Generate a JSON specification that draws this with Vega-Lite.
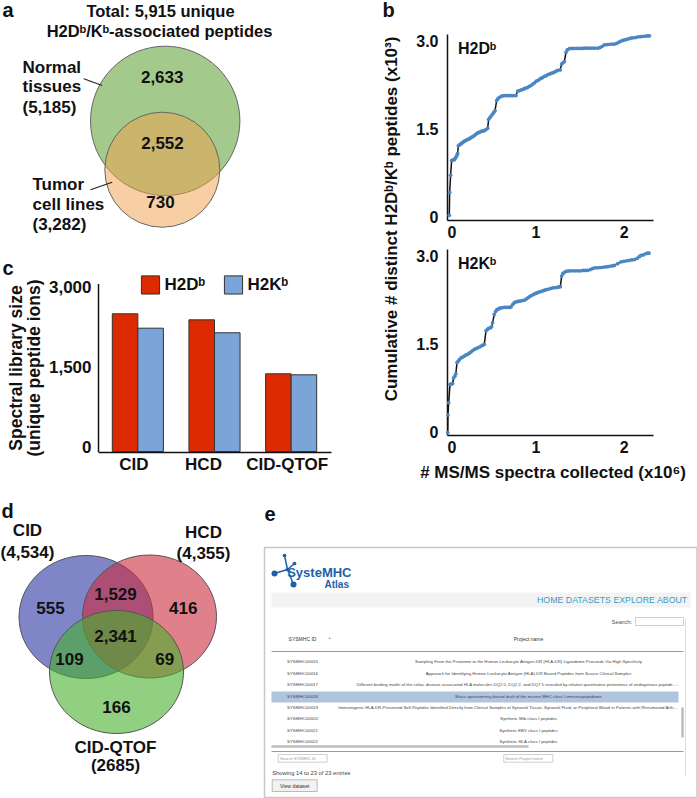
{
"$schema":"https://vega.github.io/schema/vega-lite/v6.json",
"background":"white",
"padding":0,
"config":{
  "view":{"stroke":null},
  "font":"Liberation Sans",
  "axis":{"labelFont":"Liberation Sans","titleFont":"Liberation Sans","labelColor":"#111","titleColor":"#111","domainColor":"#111","grid":false,"ticks":false,"tickSize":0},
  "legend":{"labelFont":"Liberation Sans"},
  "text":{"font":"Liberation Sans"}
},
"datasets":{
  "h2db":[
    {"ms":0.026,"kpep":0.04},{"ms":0.03,"kpep":0.43},{"ms":0.041,"kpep":0.72},{"ms":0.052,"kpep":0.97},{"ms":0.06,"kpep":0.975},{"ms":0.07,"kpep":0.98},{"ms":0.083,"kpep":0.985},{"ms":0.093,"kpep":1.01},{"ms":0.102,"kpep":1.03},{"ms":0.112,"kpep":1.06},{"ms":0.12,"kpep":1.09},{"ms":0.128,"kpep":1.22},{"ms":0.14,"kpep":1.235},{"ms":0.15,"kpep":1.245},{"ms":0.158,"kpep":1.255},{"ms":0.17,"kpep":1.27},{"ms":0.183,"kpep":1.285},{"ms":0.196,"kpep":1.3},{"ms":0.21,"kpep":1.31},{"ms":0.225,"kpep":1.32},{"ms":0.24,"kpep":1.335},{"ms":0.253,"kpep":1.34},{"ms":0.265,"kpep":1.355},{"ms":0.28,"kpep":1.37},{"ms":0.295,"kpep":1.38},{"ms":0.309,"kpep":1.395},{"ms":0.325,"kpep":1.415},{"ms":0.34,"kpep":1.43},{"ms":0.353,"kpep":1.445},{"ms":0.366,"kpep":1.45},{"ms":0.38,"kpep":1.46},{"ms":0.395,"kpep":1.47},{"ms":0.41,"kpep":1.475},{"ms":0.422,"kpep":1.48},{"ms":0.44,"kpep":1.495},{"ms":0.46,"kpep":1.52},{"ms":0.471,"kpep":1.67},{"ms":0.485,"kpep":1.7},{"ms":0.5,"kpep":1.73},{"ms":0.516,"kpep":1.76},{"ms":0.53,"kpep":1.79},{"ms":0.543,"kpep":1.82},{"ms":0.562,"kpep":1.99},{"ms":0.575,"kpep":2.02},{"ms":0.59,"kpep":2.04},{"ms":0.611,"kpep":2.06},{"ms":0.63,"kpep":2.07},{"ms":0.65,"kpep":2.075},{"ms":0.67,"kpep":2.075},{"ms":0.69,"kpep":2.075},{"ms":0.71,"kpep":2.075},{"ms":0.73,"kpep":2.075},{"ms":0.75,"kpep":2.075},{"ms":0.78,"kpep":2.075},{"ms":0.8,"kpep":2.15},{"ms":0.82,"kpep":2.16},{"ms":0.84,"kpep":2.17},{"ms":0.86,"kpep":2.18},{"ms":0.875,"kpep":2.19},{"ms":0.89,"kpep":2.2},{"ms":0.91,"kpep":2.21},{"ms":0.93,"kpep":2.23},{"ms":0.95,"kpep":2.245},{"ms":0.97,"kpep":2.27},{"ms":0.99,"kpep":2.29},{"ms":1.01,"kpep":2.32},{"ms":1.026,"kpep":2.33},{"ms":1.045,"kpep":2.35},{"ms":1.065,"kpep":2.37},{"ms":1.08,"kpep":2.38},{"ms":1.1,"kpep":2.4},{"ms":1.12,"kpep":2.41},{"ms":1.14,"kpep":2.43},{"ms":1.16,"kpep":2.44},{"ms":1.176,"kpep":2.45},{"ms":1.195,"kpep":2.46},{"ms":1.21,"kpep":2.47},{"ms":1.23,"kpep":2.485},{"ms":1.25,"kpep":2.5},{"ms":1.28,"kpep":2.51},{"ms":1.297,"kpep":2.61},{"ms":1.31,"kpep":2.63},{"ms":1.327,"kpep":2.65},{"ms":1.346,"kpep":2.81},{"ms":1.36,"kpep":2.85},{"ms":1.384,"kpep":2.87},{"ms":1.41,"kpep":2.875},{"ms":1.44,"kpep":2.875},{"ms":1.47,"kpep":2.875},{"ms":1.5,"kpep":2.875},{"ms":1.53,"kpep":2.875},{"ms":1.554,"kpep":2.88},{"ms":1.58,"kpep":2.88},{"ms":1.61,"kpep":2.88},{"ms":1.64,"kpep":2.88},{"ms":1.67,"kpep":2.88},{"ms":1.705,"kpep":2.88},{"ms":1.73,"kpep":2.89},{"ms":1.755,"kpep":2.91},{"ms":1.78,"kpep":2.935},{"ms":1.81,"kpep":2.94},{"ms":1.84,"kpep":2.945},{"ms":1.87,"kpep":2.95},{"ms":1.893,"kpep":2.95},{"ms":1.92,"kpep":2.96},{"ms":1.945,"kpep":2.98},{"ms":1.968,"kpep":3.0},{"ms":1.99,"kpep":3.01},{"ms":2.01,"kpep":3.02},{"ms":2.035,"kpep":3.03},{"ms":2.06,"kpep":3.04},{"ms":2.08,"kpep":3.05},{"ms":2.1,"kpep":3.055},{"ms":2.13,"kpep":3.06},{"ms":2.16,"kpep":3.07},{"ms":2.19,"kpep":3.075},{"ms":2.22,"kpep":3.08},{"ms":2.25,"kpep":3.085},{"ms":2.27,"kpep":3.09},{"ms":2.29,"kpep":3.09}
  ],
  "h2kb":[
    {"ms":0.008,"kpep":0.0},{"ms":0.011,"kpep":0.3},{"ms":0.019,"kpep":0.51},{"ms":0.034,"kpep":0.82},{"ms":0.045,"kpep":0.825},{"ms":0.055,"kpep":0.83},{"ms":0.064,"kpep":0.835},{"ms":0.075,"kpep":0.93},{"ms":0.088,"kpep":0.96},{"ms":0.1,"kpep":1.0},{"ms":0.113,"kpep":1.19},{"ms":0.125,"kpep":1.21},{"ms":0.14,"kpep":1.24},{"ms":0.158,"kpep":1.27},{"ms":0.175,"kpep":1.285},{"ms":0.195,"kpep":1.3},{"ms":0.215,"kpep":1.32},{"ms":0.234,"kpep":1.33},{"ms":0.25,"kpep":1.35},{"ms":0.27,"kpep":1.37},{"ms":0.29,"kpep":1.395},{"ms":0.309,"kpep":1.415},{"ms":0.325,"kpep":1.425},{"ms":0.345,"kpep":1.44},{"ms":0.366,"kpep":1.455},{"ms":0.385,"kpep":1.47},{"ms":0.405,"kpep":1.485},{"ms":0.422,"kpep":1.5},{"ms":0.441,"kpep":1.73},{"ms":0.455,"kpep":1.75},{"ms":0.468,"kpep":1.77},{"ms":0.49,"kpep":1.78},{"ms":0.505,"kpep":1.8},{"ms":0.516,"kpep":1.87},{"ms":0.535,"kpep":2.01},{"ms":0.55,"kpep":2.06},{"ms":0.565,"kpep":2.09},{"ms":0.58,"kpep":2.1},{"ms":0.592,"kpep":2.11},{"ms":0.61,"kpep":2.12},{"ms":0.63,"kpep":2.125},{"ms":0.65,"kpep":2.13},{"ms":0.67,"kpep":2.13},{"ms":0.69,"kpep":2.13},{"ms":0.71,"kpep":2.13},{"ms":0.724,"kpep":2.135},{"ms":0.745,"kpep":2.18},{"ms":0.762,"kpep":2.21},{"ms":0.78,"kpep":2.22},{"ms":0.8,"kpep":2.23},{"ms":0.82,"kpep":2.235},{"ms":0.84,"kpep":2.24},{"ms":0.86,"kpep":2.245},{"ms":0.875,"kpep":2.25},{"ms":0.895,"kpep":2.27},{"ms":0.915,"kpep":2.29},{"ms":0.935,"kpep":2.31},{"ms":0.955,"kpep":2.33},{"ms":0.975,"kpep":2.345},{"ms":0.995,"kpep":2.36},{"ms":1.01,"kpep":2.37},{"ms":1.026,"kpep":2.38},{"ms":1.045,"kpep":2.39},{"ms":1.065,"kpep":2.4},{"ms":1.085,"kpep":2.41},{"ms":1.105,"kpep":2.42},{"ms":1.125,"kpep":2.43},{"ms":1.15,"kpep":2.44},{"ms":1.176,"kpep":2.45},{"ms":1.2,"kpep":2.46},{"ms":1.225,"kpep":2.465},{"ms":1.25,"kpep":2.47},{"ms":1.265,"kpep":2.475},{"ms":1.282,"kpep":2.48},{"ms":1.297,"kpep":2.66},{"ms":1.31,"kpep":2.7},{"ms":1.325,"kpep":2.72},{"ms":1.345,"kpep":2.74},{"ms":1.365,"kpep":2.745},{"ms":1.39,"kpep":2.75},{"ms":1.42,"kpep":2.75},{"ms":1.45,"kpep":2.75},{"ms":1.48,"kpep":2.75},{"ms":1.51,"kpep":2.75},{"ms":1.54,"kpep":2.755},{"ms":1.565,"kpep":2.755},{"ms":1.59,"kpep":2.755},{"ms":1.62,"kpep":2.77},{"ms":1.645,"kpep":2.785},{"ms":1.67,"kpep":2.8},{"ms":1.7,"kpep":2.8},{"ms":1.73,"kpep":2.805},{"ms":1.76,"kpep":2.81},{"ms":1.79,"kpep":2.815},{"ms":1.82,"kpep":2.82},{"ms":1.85,"kpep":2.83},{"ms":1.875,"kpep":2.835},{"ms":1.893,"kpep":2.84},{"ms":1.93,"kpep":2.87},{"ms":1.968,"kpep":2.9},{"ms":2.0,"kpep":2.91},{"ms":2.03,"kpep":2.92},{"ms":2.06,"kpep":2.925},{"ms":2.09,"kpep":2.935},{"ms":2.12,"kpep":2.94},{"ms":2.15,"kpep":2.96},{"ms":2.175,"kpep":2.99},{"ms":2.194,"kpep":3.01},{"ms":2.22,"kpep":3.02},{"ms":2.25,"kpep":3.04},{"ms":2.27,"kpep":3.05},{"ms":2.285,"kpep":3.05}
  ],
  "library":[
    {"method":"CID","allele":"H2Dᵇ","ions":2582},{"method":"CID","allele":"H2Kᵇ","ions":2312},
    {"method":"HCD","allele":"H2Dᵇ","ions":2469},{"method":"HCD","allele":"H2Kᵇ","ions":2226},
    {"method":"CID-QTOF","allele":"H2Dᵇ","ions":1457},{"method":"CID-QTOF","allele":"H2Kᵇ","ions":1438}
  ],
  "a_sets":[
    {"set":"Normal tissues","peptides":5185,"x":164.7,"y":120.4},
    {"set":"Tumor cell lines","peptides":3282,"x":161.8,"y":169.2}
  ],
  "a_lines":[
    {"x":83.3,"y":78.3,"x2":101.7,"y2":85},
    {"x":90,"y":189.3,"x2":111.7,"y2":181.7}
  ],
  "a_text":[
    {"role":"title","text":"Total: 5,915 unique","x":160,"y":11},
    {"role":"title","text":"H2Dᵇ/Kᵇ-associated peptides","x":159,"y":31},
    {"role":"count","text":"2,633","x":161.7,"y":77},
    {"role":"count","text":"2,552","x":162,"y":143},
    {"role":"count","text":"730","x":160,"y":202},
    {"role":"set","text":"Normal","x":22,"y":67},
    {"role":"set","text":"tissues","x":22,"y":86.5},
    {"role":"set","text":"(5,185)","x":22,"y":107},
    {"role":"set","text":"Tumor","x":32,"y":184},
    {"role":"set","text":"cell lines","x":32,"y":204},
    {"role":"set","text":"(3,282)","x":32,"y":224},
    {"role":"panel","text":"a","x":2,"y":10},
    {"role":"panel","text":"b","x":382,"y":10},
    {"role":"panel","text":"c","x":2,"y":268}
  ],
  "d_sets":[
    {"method":"CID","x":85.5,"y":616.5},
    {"method":"HCD","x":149,"y":616},
    {"method":"CID-QTOF","x":116,"y":671.5}
  ],
  "d_text":[
    {"role":"set","text":"CID","x":27,"y":530},
    {"role":"set","text":"(4,534)","x":27,"y":552},
    {"role":"set","text":"HCD","x":203,"y":532},
    {"role":"set","text":"(4,355)","x":203,"y":553},
    {"role":"count","text":"555","x":50,"y":608},
    {"role":"count","text":"1,529","x":115,"y":594.5},
    {"role":"count","text":"416","x":182.7,"y":608},
    {"role":"count","text":"2,341","x":115,"y":636},
    {"role":"count","text":"109","x":69,"y":659.5},
    {"role":"count","text":"69","x":164.3,"y":659.5},
    {"role":"count","text":"166","x":116,"y":707},
    {"role":"set","text":"CID-QTOF","x":115,"y":747},
    {"role":"set","text":"(2685)","x":115,"y":765},
    {"role":"panel","text":"d","x":1,"y":511.5}
  ],
  "e_boxes":[
    {"role":"frame","x":264,"y":547,"x2":696.5,"y2":797},
    {"role":"nav","x":271,"y":592,"x2":690,"y2":607},
    {"role":"highlight","x":271,"y":691,"x2":678,"y2":702},
    {"role":"input","x":635,"y":617,"x2":683,"y2":625},
    {"role":"input","x":277.7,"y":754,"x2":326.7,"y2":761.7},
    {"role":"input","x":503.3,"y":754,"x2":552.3,"y2":761.7},
    {"role":"button","x":271.7,"y":779.3,"x2":316.7,"y2":791}
  ],
  "e_lines":[
    {"role":"divider","x":271,"y":651,"x2":683,"y2":651},
    {"role":"divider","x":271,"y":751,"x2":683,"y2":751},
    {"role":"scroll","x":271,"y":746,"x2":528,"y2":746},
    {"role":"scroll","x":682,"y":707,"x2":682,"y2":737},
    {"role":"track","x":685,"y":618,"x2":685,"y2":775},
    {"role":"logo","x":287,"y":569,"x2":284,"y2":555},
    {"role":"logo","x":287,"y":569,"x2":274,"y2":573},
    {"role":"logo","x":287,"y":569,"x2":293,"y2":584},
    {"role":"logo","x":287,"y":569,"x2":294,"y2":563}
  ],
  "e_nodes":[
    {"role":"big","x":274,"y":573},
    {"role":"big","x":293,"y":584},
    {"role":"small","x":284,"y":555},
    {"role":"small","x":287,"y":569},
    {"role":"small","x":294,"y":563}
  ],
  "e_text":[
    {"role":"letter","text":"e","x":264,"y":514},
    {"role":"brand","text":"SysteMHC","x":286.7,"y":572.5},
    {"role":"brandsub","text":"Atlas","x":324,"y":584.5},
    {"role":"nav","text":"HOME DATASETS EXPLORE ABOUT","x":686.7,"y":599.3},
    {"role":"search","text":"Search:","x":631.7,"y":621},
    {"role":"header","text":"SYSMHC ID","x":302,"y":638},
    {"role":"header","text":"Project name","x":528,"y":638},
    {"role":"sort","text":"▲","x":329.3,"y":637},
    {"role":"id","text":"SYSMHC00015","x":302,"y":661.7},
    {"role":"id","text":"SYSMHC00016","x":302,"y":673.3},
    {"role":"id","text":"SYSMHC00017","x":302,"y":684.7},
    {"role":"id","text":"SYSMHC00018","x":302,"y":696},
    {"role":"id","text":"SYSMHC00019","x":302,"y":707.3},
    {"role":"id","text":"SYSMHC00020","x":302,"y":718.7},
    {"role":"id","text":"SYSMHC00021","x":302,"y":730},
    {"role":"id","text":"SYSMHC00022","x":302,"y":741.7},
    {"role":"project","text":"Sampling From the Proteome to the Human Leukocyte Antigen-DR (HLA-DR) Ligandome Proceeds Via High Specificity","x":528,"y":661.7},
    {"role":"project","text":"Approach for Identifying Human Leukocyte Antigen (HLA)-DR Bound Peptides from Scarce Clinical Samples","x":528,"y":673.3},
    {"role":"cut17","text":"Different binding motifs of the celiac disease-associated HLA molecules DQ2.5, DQ2.2, and DQ7.5 revealed by relative quantitative proteomics of endogenous peptide repertoires","x":356,"y":684.7},
    {"role":"project","text":"Mass spectrometry-based draft of the murine MHC class I immunopeptidome","x":528,"y":696},
    {"role":"cut19","text":"Immunogenic HLA-DR-Presented Self-Peptides Identified Directly from Clinical Samples of Synovial Tissue, Synovial Fluid, or Peripheral Blood in Patients with Rheumatoid Arthritis","x":337.7,"y":707.3},
    {"role":"project","text":"Synthetic Mtb class I peptides","x":528,"y":718.7},
    {"role":"project","text":"Synthetic EBV class I peptides","x":528,"y":730},
    {"role":"project","text":"Synthetic HLA class I peptides","x":528,"y":741.7},
    {"role":"placeholder","text":"Search SYSMHC ID","x":279.5,"y":758},
    {"role":"placeholder","text":"Search Project name","x":505,"y":758},
    {"role":"info","text":"Showing 14 to 23 of 23 entries","x":271.7,"y":772.3},
    {"role":"buttonlabel","text":"View dataset","x":294.2,"y":785.2}
  ]
},
"columns":2,
"align":"each",
"bounds":"flush",
"spacing":{"row":29,"column":116},
"resolve":{"scale":{"color":"independent","size":"independent"},"legend":{"color":"independent","size":"independent"}},
"concat":[
  {
    "width":233,"height":186,
    "encoding":{
      "x":{"field":"x","type":"quantitative","scale":{"domain":[97.5,330.5],"nice":false,"zero":false},"axis":null},
      "y":{"field":"y","type":"quantitative","scale":{"domain":[33.5,219.5],"nice":false,"zero":false,"reverse":true},"axis":null}
    },
    "layer":[
      {"data":{"name":"a_sets"},"transform":[{"filter":"datum.set === 'Normal tissues'"}],
       "mark":{"type":"point","shape":"circle","filled":true,"opacity":1,"fill":"#a4c98c","stroke":"#666","strokeWidth":1},
       "encoding":{"size":{"field":"peptides","type":"quantitative","scale":{"domain":[3282,5185],"range":[13225,22320],"zero":false},"legend":null}}},
      {"data":{"name":"a_sets"},"transform":[{"filter":"datum.set === 'Tumor cell lines'"}],
       "mark":{"type":"point","shape":"circle","filled":true,"opacity":1,"fill":"#f19f49","fillOpacity":0.5,"stroke":"#666","strokeWidth":1},
       "encoding":{"size":{"field":"peptides","type":"quantitative","scale":{"domain":[3282,5185],"range":[13225,22320],"zero":false},"legend":null}}},
      {"data":{"name":"a_lines"},"mark":{"type":"rule","color":"#222","strokeWidth":1.2},
       "encoding":{"x2":{"field":"x2"},"y2":{"field":"y2"}}},
      {"data":{"name":"a_text"},"transform":[{"filter":"datum.role === 'title'"}],
       "mark":{"type":"text","align":"center","baseline":"middle","fontSize":16.5,"fontWeight":"bold","color":"#111"},
       "encoding":{"text":{"field":"text"}}},
      {"data":{"name":"a_text"},"transform":[{"filter":"datum.role === 'count'"}],
       "mark":{"type":"text","align":"center","baseline":"middle","fontSize":17,"fontWeight":"bold","color":"#111"},
       "encoding":{"text":{"field":"text"}}},
      {"data":{"name":"a_text"},"transform":[{"filter":"datum.role === 'set'"}],
       "mark":{"type":"text","align":"left","baseline":"middle","fontSize":17,"fontWeight":"bold","color":"#111"},
       "encoding":{"text":{"field":"text"}}},
      {"data":{"name":"a_text"},"transform":[{"filter":"datum.role === 'panel'"}],
       "mark":{"type":"text","align":"left","baseline":"middle","fontSize":20,"fontWeight":"bold","color":"#111"},
       "encoding":{"text":{"field":"text"}}}
    ]
  },
  {
    "width":206,"height":186,
    "encoding":{
      "x":{"field":"ms","type":"quantitative","scale":{"domain":[0,2.33],"nice":false,"zero":false},
           "axis":{"values":[0,1,2],"format":"d","labelFontSize":16,"labelFontWeight":"bold","labelPadding":4,"domainWidth":1.5,"title":null}},
      "y":{"field":"kpep","type":"quantitative","scale":{"domain":[-0.04,3.12],"nice":false,"zero":false},
           "axis":{"values":[0,1.5,3],"labelExpr":"datum.value === 0 ? '0' : format(datum.value, '.1f')","labelFontSize":16,"labelFontWeight":"bold","labelPadding":9,"domainWidth":1.5,
                   "title":"Cumulative # distinct H2Dᵇ/Kᵇ peptides (x10³)","titleFontSize":17,"titleFontWeight":"bold","titleAngle":270,"titleAlign":"center","titleBaseline":"middle","titleX":-56,"titleY":184.5}}
    },
    "layer":[
      {"data":{"name":"h2db"},"mark":{"type":"line","color":"#111","strokeWidth":1.5}},
      {"data":{"name":"h2db"},"mark":{"type":"point","filled":true,"size":14,"color":"#4a86c4","opacity":1}},
      {"data":{"values":[{"allele":"H2Dᵇ","ms":0.124,"kpep":2.87}]},
       "mark":{"type":"text","align":"left","baseline":"middle","fontSize":16,"fontWeight":"bold","color":"#111"},
       "encoding":{"text":{"field":"allele"}}}
    ]
  },
  {
    "width":233,"height":203,
    "data":{"name":"library"},
    "mark":{"type":"bar","stroke":"#333","strokeWidth":1},
    "encoding":{
      "x":{"field":"method","type":"nominal","sort":["CID","HCD","CID-QTOF"],"scale":{"paddingInner":0,"paddingOuter":0.02},
           "axis":{"title":null,"labelAngle":0,"labelFontSize":17,"labelFontWeight":"bold","labelPadding":4,"domainWidth":1.5,
                   "labelOffset":{"condition":{"test":"datum.value === 'HCD'","value":-11},"value":-4}}},
      "xOffset":{"field":"allele","type":"nominal","scale":{"paddingInner":0,"paddingOuter":0.5}},
      "y":{"field":"ions","type":"quantitative","scale":{"domain":[0,3150],"nice":false,"range":[202.5,34.5]},
           "axis":{"values":[0,1500,3000],"format":",d","labelFontSize":17,"labelFontWeight":"bold","labelPadding":7,"labelOffset":-4,"domainWidth":1.5,
                   "title":["Spectral library size","(unique peptide ions)"],"titleFontSize":17.5,"titleFontWeight":"bold","titleAngle":270,"titleAlign":"center","titleBaseline":"middle","titleLineHeight":18,"titleX":-82,"titleY":118.5}},
      "color":{"field":"allele","type":"nominal","scale":{"domain":["H2Dᵇ","H2Kᵇ"],"range":["#dd2a00","#7ba4d9"]},
               "legend":{"orient":"none","legendX":42.5,"legendY":25.5,"direction":"horizontal","title":null,"symbolType":"square","symbolSize":330,"symbolStrokeColor":"#333","symbolStrokeWidth":1,"symbolOpacity":1,"labelFontSize":17,"labelFontWeight":"bold","labelColor":"#111","labelOffset":4,"columnPadding":16,"padding":0}}
    }
  },
  {
    "width":206,"height":186,
    "encoding":{
      "x":{"field":"ms","type":"quantitative","scale":{"domain":[0,2.33],"nice":false,"zero":false},
           "axis":{"values":[0,1,2],"format":"d","labelFontSize":16,"labelFontWeight":"bold","labelPadding":4,"domainWidth":1.5,
                   "title":"# MS/MS spectra collected (x10⁶)","titleFontSize":17,"titleFontWeight":"bold","titleBaseline":"middle","titleX":105.5,"titleY":37}},
      "y":{"field":"kpep","type":"quantitative","scale":{"domain":[-0.04,3.12],"nice":false,"zero":false},
           "axis":{"values":[0,1.5,3],"labelExpr":"datum.value === 0 ? '0' : format(datum.value, '.1f')","labelFontSize":16,"labelFontWeight":"bold","labelPadding":9,"domainWidth":1.5,"title":null}}
    },
    "layer":[
      {"data":{"name":"h2kb"},"mark":{"type":"line","color":"#111","strokeWidth":1.5}},
      {"data":{"name":"h2kb"},"mark":{"type":"point","filled":true,"size":14,"color":"#4a86c4","opacity":1}},
      {"data":{"values":[{"allele":"H2Kᵇ","ms":0.124,"kpep":2.86}]},
       "mark":{"type":"text","align":"left","baseline":"middle","fontSize":16,"fontWeight":"bold","color":"#111"},
       "encoding":{"text":{"field":"allele"}}}
    ]
  },
  {
    "width":233,"height":300,
    "encoding":{
      "x":{"field":"x","type":"quantitative","scale":{"domain":[97.5,330.5],"nice":false,"zero":false},"axis":null},
      "y":{"field":"y","type":"quantitative","scale":{"domain":[480.5,780.5],"nice":false,"zero":false,"reverse":true},"axis":null}
    },
    "layer":[
      {"data":{"name":"d_sets"},
       "mark":{"type":"point","shape":"M-1,0A1,0.918,0,1,0,1,0A1,0.918,0,1,0,-1,0Z","filled":true,"size":17956,"opacity":1,"fillOpacity":0.6,"stroke":"#555","strokeWidth":1},
       "encoding":{"color":{"field":"method","type":"nominal","scale":{"domain":["CID","HCD","CID-QTOF"],"range":["#2b34a3","#cb2b3c","#46b12b"]},"legend":null}}},
      {"data":{"name":"d_text"},"transform":[{"filter":"datum.role !== 'panel'"}],
       "mark":{"type":"text","align":"center","baseline":"middle","fontSize":17,"fontWeight":"bold","color":"#111"},
       "encoding":{"text":{"field":"text"}}},
      {"data":{"name":"d_text"},"transform":[{"filter":"datum.role === 'panel'"}],
       "mark":{"type":"text","align":"left","baseline":"middle","fontSize":20,"fontWeight":"bold","color":"#111"},
       "encoding":{"text":{"field":"text"}}}
    ]
  },
  {
    "width":251,"height":317,
    "encoding":{
      "x":{"field":"x","type":"quantitative","scale":{"domain":[446.5,697.5],"nice":false,"zero":false},"axis":null},
      "y":{"field":"y","type":"quantitative","scale":{"domain":[480.5,797.5],"nice":false,"zero":false,"reverse":true},"axis":null}
    },
    "layer":[
      {"data":{"name":"e_boxes"},"transform":[{"filter":"datum.role === 'frame'"}],
       "mark":{"type":"rect","fill":"white","stroke":"#c8c8c8","strokeWidth":1.5},
       "encoding":{"x2":{"field":"x2"},"y2":{"field":"y2"}}},
      {"data":{"name":"e_boxes"},"transform":[{"filter":"datum.role === 'nav'"}],
       "mark":{"type":"rect","fill":"#f3f3f3"},
       "encoding":{"x2":{"field":"x2"},"y2":{"field":"y2"}}},
      {"data":{"name":"e_boxes"},"transform":[{"filter":"datum.role === 'highlight'"}],
       "mark":{"type":"rect","fill":"#b0c4de"},
       "encoding":{"x2":{"field":"x2"},"y2":{"field":"y2"}}},
      {"data":{"name":"e_boxes"},"transform":[{"filter":"datum.role === 'input'"}],
       "mark":{"type":"rect","fill":"white","stroke":"#bbbbbb","strokeWidth":0.7},
       "encoding":{"x2":{"field":"x2"},"y2":{"field":"y2"}}},
      {"data":{"name":"e_boxes"},"transform":[{"filter":"datum.role === 'button'"}],
       "mark":{"type":"rect","fill":"#f2f2f2","stroke":"#aaaaaa","strokeWidth":0.8},
       "encoding":{"x2":{"field":"x2"},"y2":{"field":"y2"}}},
      {"data":{"name":"e_lines"},"transform":[{"filter":"datum.role === 'divider'"}],
       "mark":{"type":"rule","color":"#999999","strokeWidth":1},
       "encoding":{"x2":{"field":"x2"},"y2":{"field":"y2"}}},
      {"data":{"name":"e_lines"},"transform":[{"filter":"datum.role === 'scroll'"}],
       "mark":{"type":"rule","color":"#bdbdbd","strokeWidth":2.5},
       "encoding":{"x2":{"field":"x2"},"y2":{"field":"y2"}}},
      {"data":{"name":"e_lines"},"transform":[{"filter":"datum.role === 'track'"}],
       "mark":{"type":"rule","color":"#dddddd","strokeWidth":1},
       "encoding":{"x2":{"field":"x2"},"y2":{"field":"y2"}}},
      {"data":{"name":"e_lines"},"transform":[{"filter":"datum.role === 'logo'"}],
       "mark":{"type":"rule","color":"#1d5fa8","strokeWidth":1.5},
       "encoding":{"x2":{"field":"x2"},"y2":{"field":"y2"}}},
      {"data":{"name":"e_nodes"},"transform":[{"filter":"datum.role === 'big'"}],
       "mark":{"type":"point","shape":"circle","filled":true,"size":36,"color":"#1d5fa8","opacity":1}},
      {"data":{"name":"e_nodes"},"transform":[{"filter":"datum.role === 'small'"}],
       "mark":{"type":"point","shape":"circle","filled":true,"size":14,"color":"#1d5fa8","opacity":1}},
      {"data":{"name":"e_text"},"transform":[{"filter":"datum.role === 'letter'"}],
       "mark":{"type":"text","align":"left","baseline":"middle","fontSize":20,"fontWeight":"bold","color":"#111"},
       "encoding":{"text":{"field":"text"}}},
      {"data":{"name":"e_text"},"transform":[{"filter":"datum.role === 'brand'"}],
       "mark":{"type":"text","align":"left","baseline":"middle","fontSize":13,"fontWeight":"bold","color":"#1d5fa8"},
       "encoding":{"text":{"field":"text"}}},
      {"data":{"name":"e_text"},"transform":[{"filter":"datum.role === 'brandsub'"}],
       "mark":{"type":"text","align":"left","baseline":"middle","fontSize":10,"fontWeight":"bold","color":"#1d5fa8"},
       "encoding":{"text":{"field":"text"}}},
      {"data":{"name":"e_text"},"transform":[{"filter":"datum.role === 'nav'"}],
       "mark":{"type":"text","align":"right","baseline":"middle","fontSize":8.8,"color":"#3a9cc5"},
       "encoding":{"text":{"field":"text"}}},
      {"data":{"name":"e_text"},"transform":[{"filter":"datum.role === 'search'"}],
       "mark":{"type":"text","align":"right","baseline":"middle","fontSize":6,"color":"#555555"},
       "encoding":{"text":{"field":"text"}}},
      {"data":{"name":"e_text"},"transform":[{"filter":"datum.role === 'header'"}],
       "mark":{"type":"text","align":"center","baseline":"middle","fontSize":5,"color":"#333333"},
       "encoding":{"text":{"field":"text"}}},
      {"data":{"name":"e_text"},"transform":[{"filter":"datum.role === 'sort'"}],
       "mark":{"type":"text","align":"center","baseline":"middle","fontSize":3.5,"color":"#8890b0"},
       "encoding":{"text":{"field":"text"}}},
      {"data":{"name":"e_text"},"transform":[{"filter":"datum.role === 'id'"}],
       "mark":{"type":"text","align":"center","baseline":"middle","fontSize":4.4,"color":"#444444"},
       "encoding":{"text":{"field":"text"}}},
      {"data":{"name":"e_text"},"transform":[{"filter":"datum.role === 'project'"}],
       "mark":{"type":"text","align":"center","baseline":"middle","fontSize":4.3,"color":"#444444"},
       "encoding":{"text":{"field":"text"}}},
      {"data":{"name":"e_text"},"transform":[{"filter":"datum.role === 'cut17'"}],
       "mark":{"type":"text","align":"left","baseline":"middle","fontSize":4.3,"color":"#444444","limit":322,"ellipsis":""},
       "encoding":{"text":{"field":"text"}}},
      {"data":{"name":"e_text"},"transform":[{"filter":"datum.role === 'cut19'"}],
       "mark":{"type":"text","align":"left","baseline":"middle","fontSize":4.3,"color":"#444444","limit":340,"ellipsis":""},
       "encoding":{"text":{"field":"text"}}},
      {"data":{"name":"e_text"},"transform":[{"filter":"datum.role === 'placeholder'"}],
       "mark":{"type":"text","align":"left","baseline":"middle","fontSize":4,"color":"#999999"},
       "encoding":{"text":{"field":"text"}}},
      {"data":{"name":"e_text"},"transform":[{"filter":"datum.role === 'info'"}],
       "mark":{"type":"text","align":"left","baseline":"middle","fontSize":5.8,"color":"#444444"},
       "encoding":{"text":{"field":"text"}}},
      {"data":{"name":"e_text"},"transform":[{"filter":"datum.role === 'buttonlabel'"}],
       "mark":{"type":"text","align":"center","baseline":"middle","fontSize":5.2,"color":"#333333"},
       "encoding":{"text":{"field":"text"}}}
    ]
  }
]
}
